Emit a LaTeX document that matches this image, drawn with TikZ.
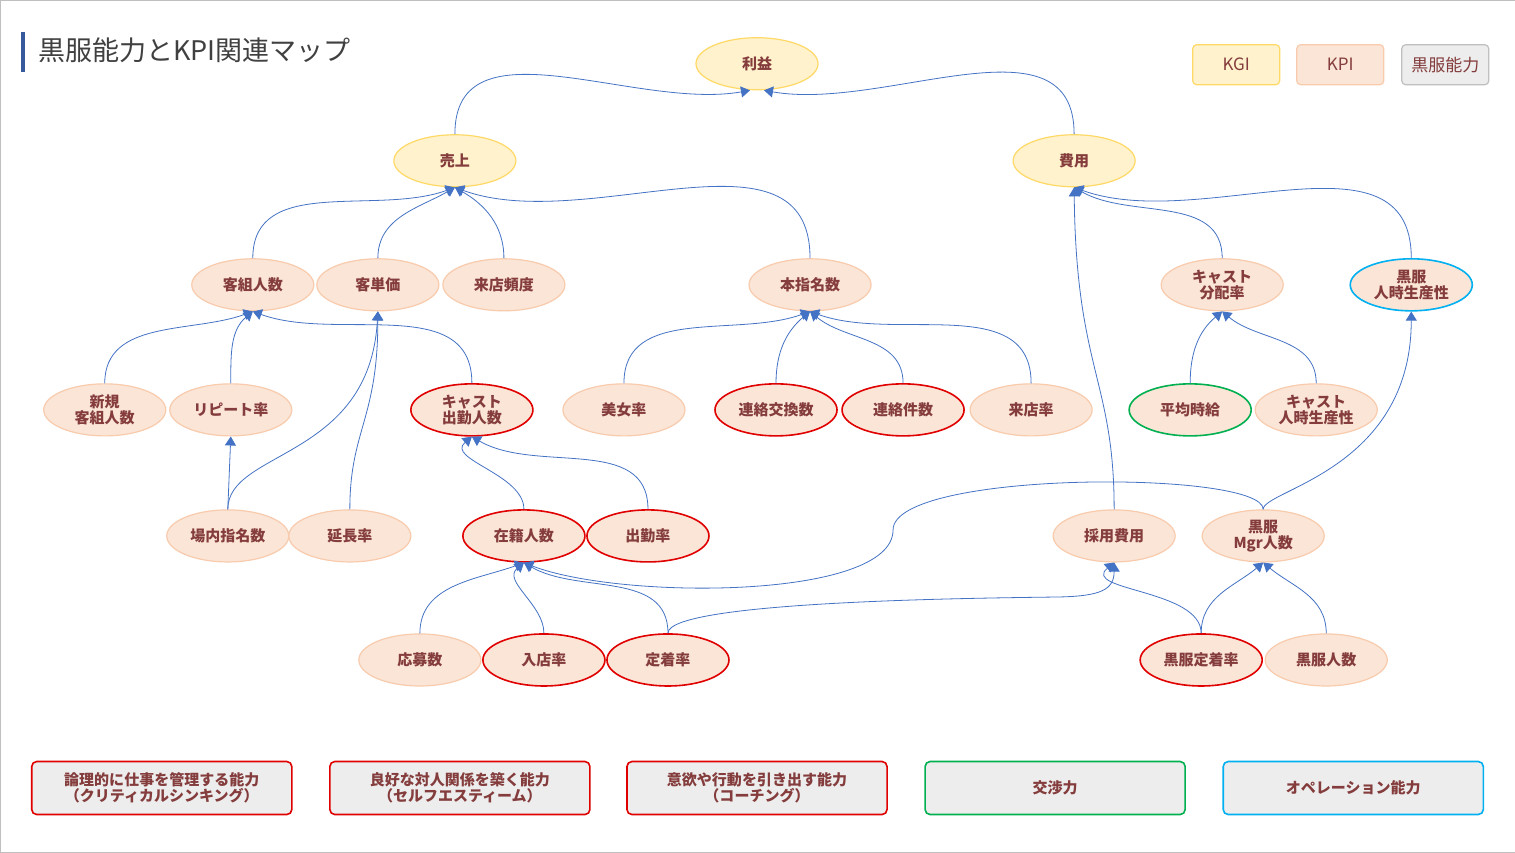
\documentclass[tikz,border=0pt]{standalone}
\usepackage{fontspec}
\setmainfont{Noto Sans CJK JP}
\usetikzlibrary{shapes.geometric,arrows.meta}
\definecolor{kgiF}{HTML}{FFF2CC}\definecolor{kgiD}{HTML}{FFD966}
\definecolor{kpiF}{HTML}{FBE5D6}\definecolor{kpiD}{HTML}{F8CBAD}
\definecolor{txt}{HTML}{843C3C}\definecolor{ln}{HTML}{4472C4}
\definecolor{rd}{HTML}{E00000}\definecolor{gn}{HTML}{00B050}\definecolor{bl}{HTML}{00B0F0}
\begin{document}
\begin{tikzpicture}[x=1pt,y=-1pt,
 el/.style={ellipse,minimum width=122pt,minimum height=52pt,inner sep=0pt,align=center,text=txt,font=\fontsize{15}{16}\selectfont\bfseries,line width=1.2pt},
 kgi/.style={el,fill=kgiF,draw=kgiD},
 kpi/.style={el,fill=kpiF,draw=kpiD},
 r/.style={kpi,draw=rd,line width=1.6pt},
 g/.style={kpi,draw=gn,line width=1.6pt},
 b/.style={kpi,draw=bl,line width=1.6pt},
 bx/.style={rectangle,rounded corners=5pt,minimum width=260pt,minimum height=53pt,fill=black!7,line width=1.6pt,align=center,text=txt,font=\fontsize{15}{16}\selectfont\bfseries},
 lg/.style={rectangle,rounded corners=4pt,minimum width=87pt,minimum height=40pt,line width=1.2pt,text=txt,font=\fontsize{17}{18}\selectfont},
 e/.style={draw=ln,line width=0.8pt,-{Triangle[width=11pt,length=9pt]}}]
\draw[black!25,fill=white] (0.5,0.5) rectangle (1514.5,852.5);
\fill[ln!80!black] (21,32) rectangle (25,72);
\node[anchor=west,font=\fontsize{27}{28}\selectfont,text=black!75] (title) at (35,51) {黒服能力とKPI関連マップ};
\node[lg,fill=kgiF,draw=kgiD] (lkgi) at (1236,65) {KGI};
\node[lg,fill=kpiF,draw=kpiD] (lkpi) at (1340,65) {KPI};
\node[lg,fill=black!7,draw=black!25] (lkf) at (1445,65) {黒服能力};
\node[kgi] (rieki) at (757,64) {利益};
\node[kgi] (uri) at (455,161) {売上};
\node[kgi] (hiyo) at (1074,161) {費用};
\node[kpi] (kyaku) at (253,285) {客組人数};
\node[kpi] (tanka) at (378,285) {客単価};
\node[kpi] (hindo) at (504,285) {来店頻度};
\node[kpi] (honsi) at (810,285) {本指名数};
\node[kpi] (bunpai) at (1222,285) {キャスト\\分配率};
\node[b] (kjsei) at (1411,285) {黒服\\人時生産性};
\node[kpi] (shinki) at (105,410) {新規\\客組人数};
\node[kpi] (repeat) at (231,410) {リピート率};
\node[r] (cshu) at (472,410) {キャスト\\出勤人数};
\node[kpi] (bijo) at (624,410) {美女率};
\node[r] (renko) at (776,410) {連絡交換数};
\node[r] (renken) at (903,410) {連絡件数};
\node[kpi] (raiten) at (1031,410) {来店率};
\node[g] (jikyu) at (1190,410) {平均時給};
\node[kpi] (cjsei) at (1316,410) {キャスト\\人時生産性};
\node[kpi] (jonai) at (228,536) {場内指名数};
\node[kpi] (encho) at (350,536) {延長率};
\node[r] (zaiseki) at (524,536) {在籍人数};
\node[r] (shukin) at (648,536) {出勤率};
\node[kpi] (saiyo) at (1114,536) {採用費用};
\node[kpi] (mgr) at (1263,536) {黒服\\Mgr人数};
\node[kpi] (obo) at (420,660) {応募数};
\node[r] (nyuten) at (544,660) {入店率};
\node[r] (teichaku) at (668,660) {定着率};
\node[r] (kteichaku) at (1201,660) {黒服定着率};
\node[kpi] (kninzu) at (1326,660) {黒服人数};
\node[bx,draw=rd] (b1) at (162,788) {論理的に仕事を管理する能力\\（クリティカルシンキング）};
\node[bx,draw=rd] (b2) at (460,788) {良好な対人関係を築く能力\\（セルフエスティーム）};
\node[bx,draw=rd] (b3) at (757,788) {意欲や行動を引き出す能力\\（コーチング）};
\node[bx,draw=gn] (b4) at (1055,788) {交渉力};
\node[bx,draw=bl] (b5) at (1353,788) {オペレーション能力};
% edges
\draw[e] (uri.north) to[out=90,in=-170] ([xshift=-7pt]rieki.south);
\draw[e] (hiyo.north) to[out=90,in=-10] ([xshift=7pt]rieki.south);
\draw[e] (kyaku.north) to[out=90,in=-160] (uri.south);
\draw[e] (tanka.north) to[out=90,in=-150] (uri.south);
\draw[e] (hindo.north) to[out=90,in=-30] (uri.south);
\draw[e] (honsi.north) to[out=90,in=-20] (uri.south);
\draw[e] (bunpai.north) to[out=90,in=-30] (hiyo.south);
\draw[e] (kjsei.north) to[out=90,in=-20] (hiyo.south);
\draw[e] (saiyo.north) .. controls (1114,380) and (1076,370) .. (hiyo.south);
\draw[e] (shinki.north) to[out=90,in=-160] (kyaku.south);
\draw[e] (repeat.north) to[out=90,in=-140] (kyaku.south);
\draw[e] (cshu.north) to[out=90,in=-20] (kyaku.south);
\draw[e] (jonai.north) -- (repeat.south);
\draw[e] (jonai.north) .. controls (228,450) and (370,460) .. (tanka.south);
\draw[e] (encho.north) .. controls (350,430) and (378,420) .. (tanka.south);
\draw[e] (bijo.north) to[out=90,in=-160] (honsi.south);
\draw[e] (renko.north) to[out=90,in=-140] (honsi.south);
\draw[e] (renken.north) to[out=90,in=-40] (honsi.south);
\draw[e] (raiten.north) to[out=90,in=-20] (honsi.south);
\draw[e] (jikyu.north) to[out=90,in=-140] (bunpai.south);
\draw[e] (cjsei.north) to[out=90,in=-40] (bunpai.south);
\draw[e] (mgr.north) .. controls (1263,490) and (1411,470) .. (kjsei.south);
\draw[e] (zaiseki.north) to[out=90,in=-140] (cshu.south);
\draw[e] (shukin.north) to[out=90,in=-30] (cshu.south);
\draw[e] (obo.north) to[out=90,in=-160] (zaiseki.south);
\draw[e] (nyuten.north) to[out=90,in=-140] (zaiseki.south);
\draw[e] (teichaku.north) to[out=90,in=-30] (zaiseki.south);
\draw[e] (mgr.north) .. controls (1263,470) and (893,470) .. (893,530) .. controls (893,600) and (620,600) .. (zaiseki.south);
\draw[e] (teichaku.north) .. controls (668,600) and (1000,598) .. (1060,597) .. controls (1100,596) and (1114,590) .. (saiyo.south);
\draw[e] (kteichaku.north) to[out=90,in=-140] (saiyo.south);
\draw[e] (kteichaku.north) to[out=90,in=-140] (mgr.south);
\draw[e] (kninzu.north) to[out=90,in=-40] (mgr.south);
\end{tikzpicture}
\end{document}
